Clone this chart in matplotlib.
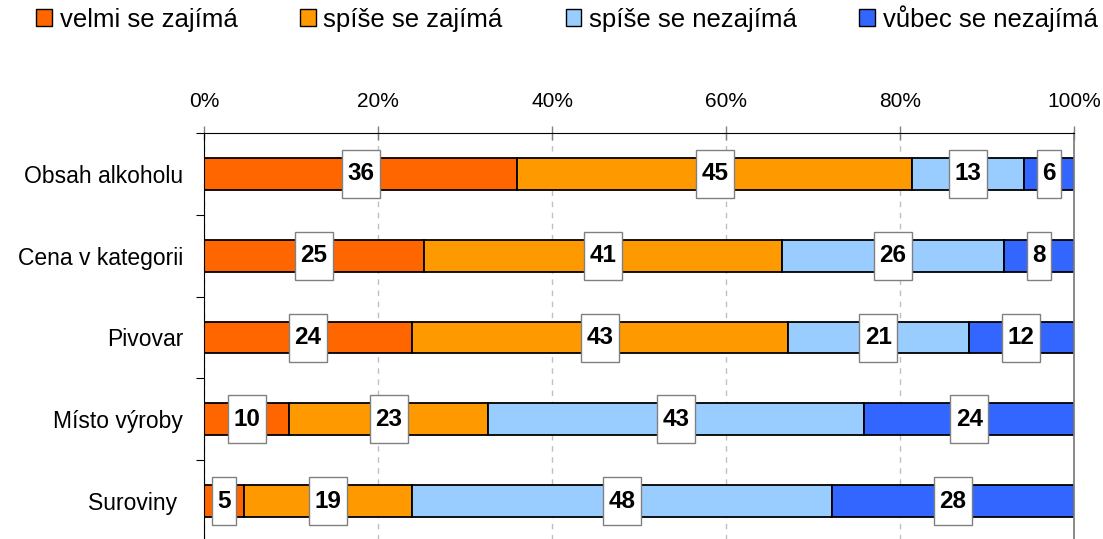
import matplotlib
matplotlib.use("Agg")
import matplotlib.pyplot as plt
from matplotlib.patches import Patch
from matplotlib.path import Path
import numpy as np

plt.rcParams['font.family'] = ['Liberation Sans', 'DejaVu Sans']

categories = ['Obsah alkoholu', 'Cena v kategorii', 'Pivovar', 'Místo výroby', 'Suroviny ']
series_names = ['velmi se zajímá', 'spíše se zajímá', 'spíše se nezajímá', 'vůbec se nezajímá']
velmi_zajima = [36.0, 25.3, 23.9, 9.8, 4.6]
spise_zajima = [45.4, 41.1, 43.2, 22.9, 19.3]
spise_nezajima = [12.8, 25.6, 20.8, 43.2, 48.3]
vubec_nezajima = [5.8, 8.0, 12.1, 24.1, 27.8]
x_ticks = [0, 20, 40, 60, 80, 100]
x_tick_labels = ['0%', '20%', '40%', '60%', '80%', '100%']

colors = ['#FF6600', '#FF9900', '#99CCFF', '#3366FF']
series = [velmi_zajima, spise_zajima, spise_nezajima, vubec_nezajima]


def label_box(x0, y0, width, height, mutation_size):
    # box wider than the text by a few px, fixed height like the original
    cx = x0 + width / 2
    cy = y0 + height / 2
    w = width + 11
    h = 48
    verts = [(cx - w / 2, cy - h / 2), (cx + w / 2, cy - h / 2),
             (cx + w / 2, cy + h / 2), (cx - w / 2, cy + h / 2),
             (cx - w / 2, cy - h / 2)]
    return Path(verts, closed=True)


fig = plt.figure(figsize=(11.03, 5.39), dpi=100)
ax = fig.add_axes([204 / 1103, -3 / 539, 870 / 1103, 409 / 539])

y = np.arange(len(categories))
left = np.zeros(len(categories))
for vals, col in zip(series, colors):
    vals = np.array(vals)
    ax.barh(y, vals, left=left, height=0.39, color=col, edgecolor='black',
            linewidth=1.3, zorder=2)
    for yi, l, v in zip(y, left, vals):
        ax.text(l + v / 2, yi, '%.0f' % v, ha='center', va='center',
                fontsize=17.5, fontweight='bold', zorder=5,
                bbox=dict(boxstyle=label_box, facecolor='white',
                          edgecolor='#808080', linewidth=1.0))
    left = left + vals

ax.set_xlim(0, 100)
ax.set_ylim(len(categories) - 0.5, -0.5)

ax.xaxis.tick_top()
ax.set_xticks(x_ticks)
ax.set_xticklabels(x_tick_labels)
ax.tick_params(axis='x', direction='inout', length=10, width=1, color='#808080',
               labelsize=15, pad=11)

ax.set_yticks(y)
ax.set_yticklabels(categories)
ax.set_yticks(np.arange(-0.5, len(categories) - 0.5, 1), minor=True)
ax.tick_params(axis='y', which='major', length=0, labelsize=16.5, pad=15)
ax.tick_params(axis='y', which='minor', length=6, width=0.8, color='black')

ax.set_axisbelow(True)
ax.xaxis.grid(True, linestyle=(0, (4, 4)), color='#c0c0c0', linewidth=1)

ax.spines['bottom'].set_visible(False)
ax.spines['top'].set_linewidth(0.8)
ax.spines['left'].set_linewidth(0.8)
ax.spines['right'].set_color('#808080')
ax.spines['right'].set_linewidth(1.3)

handles = [Patch(facecolor=c, edgecolor='black', linewidth=1.0) for c in colors]
fig.legend(handles, series_names, loc='center', bbox_to_anchor=(0.514, 0.966),
           ncol=4, frameon=False, fontsize=18.5, handlelength=0.6, handleheight=0.6,
           handletextpad=0.3, columnspacing=2.45, borderaxespad=0, borderpad=0)

fig.savefig('out.png', dpi=100)
